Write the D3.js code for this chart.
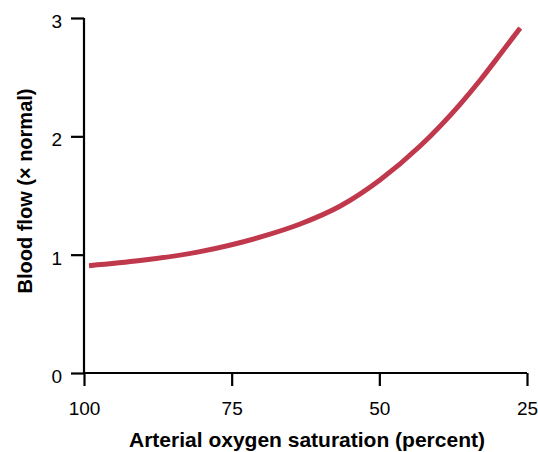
<!DOCTYPE html>
<html>
<head>
<meta charset="utf-8">
<script src="https://cdn.jsdelivr.net/npm/d3@7"></script>
<style>
  html, body { margin: 0; padding: 0; background: #fff; }
  svg { display: block; }
  text { font-family: "Liberation Sans", Arial, Helvetica, sans-serif; fill: #000; }
</style>
</head>
<body>
<svg id="chart" width="538" height="452"></svg>
<script>
// Data
const saturation = [99.15, 90.5, 80.35, 70.2, 63.4, 56.6, 49.9, 43.1, 36.3, 32.9, 29.5, 26.15];
const bloodFlow  = [0.907, 0.95, 1.026, 1.148, 1.259, 1.411, 1.631, 1.918, 2.273, 2.476, 2.696, 2.916];
const xTicks = [100, 75, 50, 25];
const yTicks = [0, 1, 2, 3];
const xTitle = "Arterial oxygen saturation (percent)";
const yTitle = "Blood flow (\u00d7 normal)";

const svg = d3.select("#chart");
const x = d3.scaleLinear().domain([100, 25]).range([84, 527]);
const y = d3.scaleLinear().domain([0, 3]).range([373, 18]);

const axisColor = "#000";

// Y axis
const yAxis = svg.append("g").attr("transform", `translate(${x(100)},0)`)
  .call(d3.axisLeft(y).tickValues(yTicks).tickFormat(d3.format("d")).tickSize(13).tickPadding(9).tickSizeOuter(0));
// X axis
const xAxis = svg.append("g").attr("transform", `translate(0,${y(0)})`)
  .call(d3.axisBottom(x).tickValues(xTicks).tickFormat(d3.format("d")).tickSize(13).tickPadding(16).tickSizeOuter(0));

[xAxis, yAxis].forEach(g => {
  g.select(".domain").attr("stroke", axisColor).attr("stroke-width", 2.2);
  g.selectAll(".tick line").attr("stroke", axisColor).attr("stroke-width", 2.2);
  g.selectAll(".tick text").attr("font-size", 19).attr("font-family", "Liberation Sans, Arial, sans-serif").attr("fill", "#111");
});
yAxis.selectAll(".tick text").attr("dy", "0.5em");
yAxis.select(".domain").attr("d", `M0,${y(3)}V${y(0)+1}`);
xAxis.select(".domain").attr("d", `M${x(100)-1},0H${x(25)}`);

// Curve
const line = d3.line()
  .x((d, i) => x(saturation[i]))
  .y((d, i) => y(bloodFlow[i]))
  .curve(d3.curveMonotoneX);
svg.append("path")
  .datum(saturation)
  .attr("d", line)
  .attr("fill", "none")
  .attr("stroke", "#c0384b")
  .attr("stroke-width", 5);

// Titles
svg.append("text")
  .attr("x", 307)
  .attr("y", 447)
  .attr("text-anchor", "middle")
  .attr("font-size", 21)
  .attr("font-weight", "bold")
  .text(xTitle);

svg.append("text")
  .attr("transform", `translate(32,191) rotate(-90)`)
  .attr("text-anchor", "middle")
  .attr("font-size", 20)
  .attr("font-weight", "bold")
  .text(yTitle);
</script>
</body>
</html>
